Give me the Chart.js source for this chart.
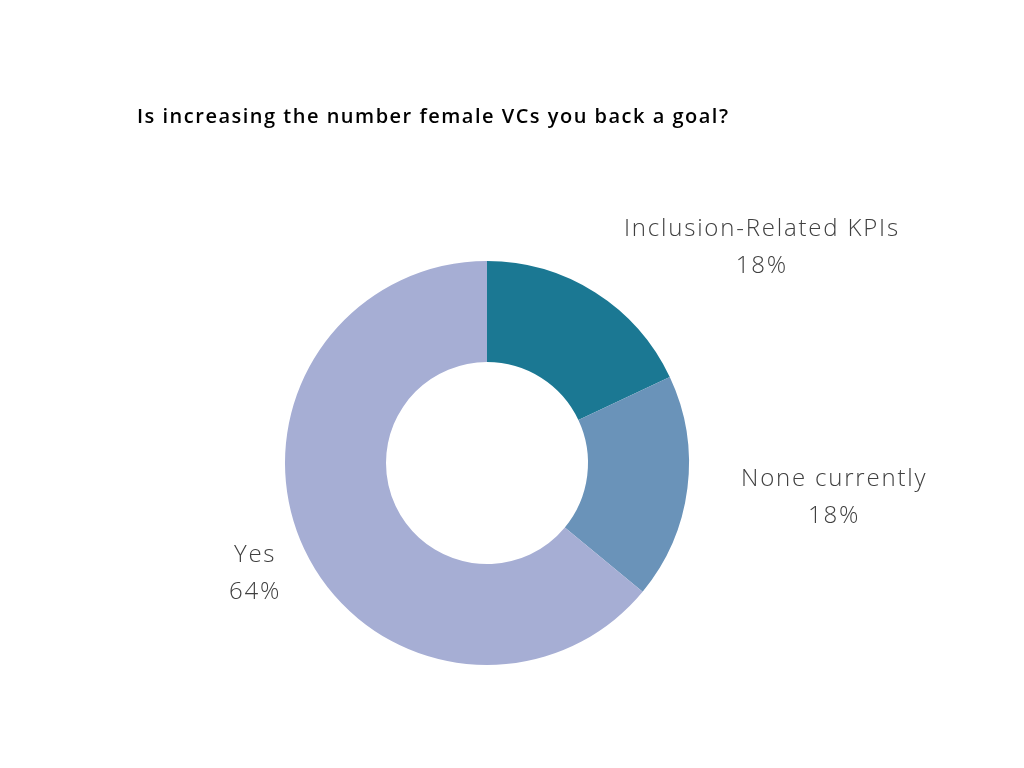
<!DOCTYPE html>
<html>
<head>
<meta charset="utf-8">
<script src="https://cdn.jsdelivr.net/npm/chart.js@4"></script>
<style>
  html, body { margin: 0; padding: 0; background: #fff; }
  #wrap { width: 1024px; height: 768px; }
</style>
</head>
<body>
<div id="wrap"><canvas id="goalChart" width="1024" height="768"></canvas></div>
<script>
const chartTitle = "Is increasing the number female VCs you back a goal?";
const labels = ["Inclusion-Related KPIs", "None currently", "Yes"];
const values = [18, 18, 64];
const colors = ["#1b7893", "#6a93b9", "#a6aed4"];

// title + outside labels
const outsideLabels = {
  id: "outsideLabels",
  afterDraw(chart, args, opts) {
    const ctx = chart.ctx;
    ctx.save();
    ctx.fillStyle = "#000";
    ctx.font = "600 20px 'Open Sans'";
    ctx.letterSpacing = "1.5px";
    ctx.textAlign = "left";
    ctx.textBaseline = "middle";
    ctx.fillText(chartTitle, 137, 117);

    const total = values.reduce((a, b) => a + b, 0);
    const meta = chart.getDatasetMeta(0);
    ctx.font = "300 24px 'Open Sans'";
    ctx.letterSpacing = "1.8px";
    ctx.fillStyle = "#404040";
    const lineH = 37;
    meta.data.forEach((arc, i) => {
      const { x, y, startAngle, endAngle, outerRadius } = arc.getProps(["x", "y", "startAngle", "endAngle", "outerRadius"], true);
      const mid = (startAngle + endAngle) / 2;
      const cosA = Math.cos(mid), sinA = Math.sin(mid);
      const r = outerRadius + (Math.abs(sinA) > 0.8 ? 20 : 42);
      const nudge = opts.nudge[i] || [0, 0];
      const ax = x + cosA * r + nudge[0], ay = y + sinA * r + nudge[1];
      const lines = [labels[i], Math.round(values[i] / total * 100) + "%"];
      const w = Math.max(...lines.map(t => ctx.measureText(t).width));
      const h = lineH * lines.length;
      let left;
      if (cosA > 0.3) left = ax;
      else if (cosA < -0.3) left = ax - w;
      else left = ax - w / 2;
      let top;
      if (sinA < -0.5) top = ay - h;
      else if (sinA > 0.5) top = ay;
      else top = ay - h / 2;
      ctx.textAlign = "center";
      lines.forEach((t, k) => ctx.fillText(t, left + w / 2, top + lineH * k + lineH / 2));
    });
    ctx.restore();
  }
};

new Chart(document.getElementById("goalChart"), {
  type: "doughnut",
  data: {
    labels: labels,
    datasets: [{ data: values, backgroundColor: colors, borderWidth: 0 }]
  },
  options: {
    responsive: false,
    animation: false,
    cutout: "50%",
    layout: { padding: { top: 261, bottom: 103, left: 200, right: 250 } },
    plugins: {
      legend: { display: false },
      tooltip: { enabled: false },
      outsideLabels: { nudge: [[18, 9], [12, 4], [15, 7]] }
    }
  },
  plugins: [outsideLabels]
});
</script>
</body>
</html>
